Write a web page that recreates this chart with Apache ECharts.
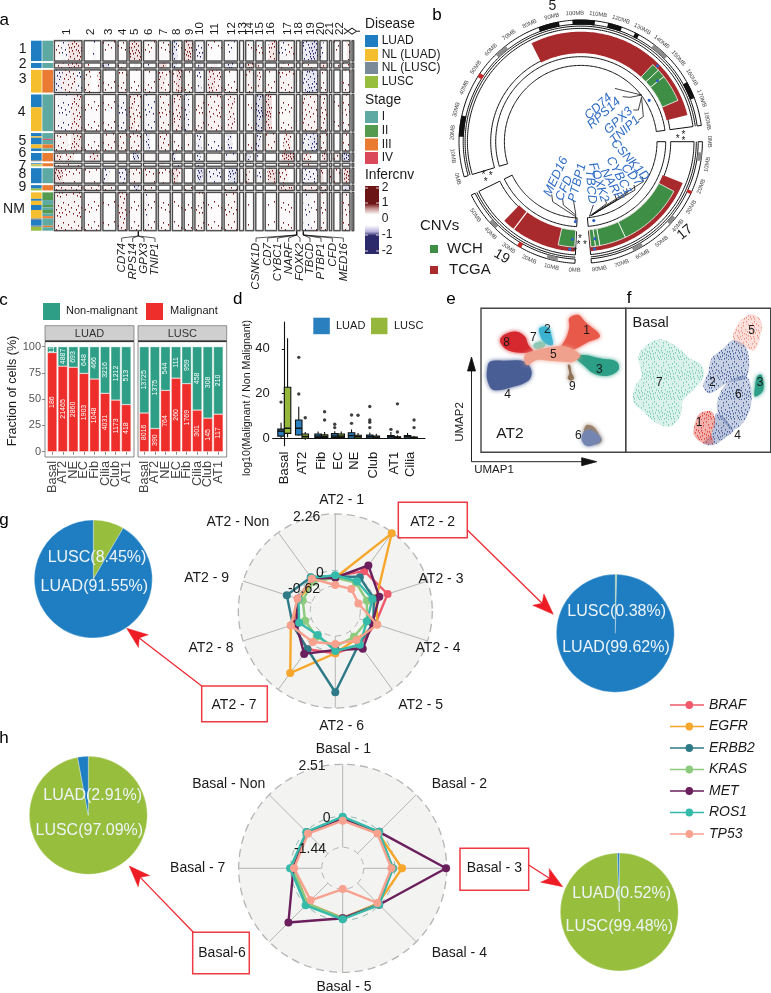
<!DOCTYPE html>
<html><head><meta charset="utf-8">
<style>html,body{margin:0;padding:0;background:#fff}#c{width:771px;height:993px}</style>
<script src="https://cdn.jsdelivr.net/npm/echarts@6/dist/echarts.min.js"></script>
</head><body><div id="c"></div>
<script>
// ---------- panel a data ----------
const chrNames=['1','2','3','4','5','6','7','8','9','10','11','12','13','14','15','16','17','18','19','20','21','22','X','Y'];
const chrSizes=[83,50,39,27,37,38,36,29,26,28,47,40,12,24,22,34,47,11,47,22,7,19,23,5];
const rowNames=['1','2','3','4','5','6','7','8','9','NM'];
const rowSizes=[61,15,68,110,54,25,9,45,16,115];
const diseaseNames=['LUAD','NL (LUAD)','NL (LUSC)','LUSC'];
const stageNames=['I','II','III','IV'];
// [row, fraction from, fraction to, category]
const annoDisease=[[0,0,1,0],[1,0,1,0],[2,0,1,1],[3,0,.35,0],[3,.35,1,1],[4,0,.18,0],[4,.18,.26,1],[4,.26,.63,0],[4,.63,.85,1],[4,.85,1,0],[5,0,.85,0],[5,.85,1,2],[6,0,.35,0],[6,.35,.7,1],[6,.7,1,3],[7,0,1,0],[8,0,.65,0],[8,.65,1,3],[9,0,.17,1],[9,.17,.22,0],[9,.22,.33,1],[9,.33,.46,0],[9,.46,.68,1],[9,.68,.72,2],[9,.72,.87,0],[9,.87,.9,2],[9,.9,1,3]];
const annoStage=[[0,0,1,0],[1,0,1,0],[2,0,1,2],[3,0,1,0],[4,0,.32,0],[4,.32,.38,3],[4,.38,.63,0],[4,.63,.85,2],[4,.85,1,0],[5,0,1,2],[6,0,1,2],[7,0,1,0],[8,0,1,2],[9,0,.2,1],[9,.2,.33,0],[9,.33,.39,1],[9,.39,.46,0],[9,.46,.55,1],[9,.55,.62,0],[9,.62,.68,2],[9,.68,.87,0],[9,.87,.91,2],[9,.91,1,0]];
// [row, chromosome index, fraction from, fraction to, inferCNV level]
const cnvSegments=[
[0,0,.5,1,1.4],[0,0,.25,.5,-.5],[0,0,0,.25,.4],[0,1,.5,.7,-.5],[0,2,0,1,.25],[0,3,0,1,.2],[0,4,0,1,1.5],[0,5,0,1,.4],[0,6,0,1,.3],[0,7,0,.5,-1.3],[0,7,.5,1,.3],[0,8,0,1,1.6],[0,9,.1,.9,-.7],[0,10,0,1,.15],[0,11,.2,.8,-.4],[0,13,0,1,.15],[0,14,0,1,.4],[0,15,.3,1,1.2],[0,16,0,.5,-.5],[0,16,.5,1,.5],[0,18,0,.5,-1.1],[0,18,.5,1,-1.8],[0,19,0,.5,-.8],[0,21,0,1,.3],[0,22,.6,1,1],
[1,0,.5,1,1.3],[1,0,0,.5,.8],[1,1,0,.3,.9],[1,2,0,.5,-1.8],[1,3,0,1,.4],[1,4,.4,.7,-.8],[1,5,.2,.6,-.6],[1,6,0,.7,1.9],[1,7,0,.4,-1.4],[1,9,.3,.7,-1.6],[1,10,.3,.7,.8],[1,11,0,.7,-1.3],[1,12,0,1,-1.5],[1,13,0,1,1.5],[1,14,0,.6,.8],[1,16,0,1,.4],[1,18,0,1,.5],[1,19,0,1,1.2],[1,21,0,1,.6],[1,22,0,1,.6],
[2,0,0,.3,-1],[2,0,.3,.8,.9],[2,0,.8,1,-.6],[2,1,0,.4,.7],[2,1,.8,1,.9],[2,2,0,1,.2],[2,3,0,1,.5],[2,4,0,1,.25],[2,5,0,1,.3],[2,6,0,.5,1],[2,6,.5,1,.5],[2,7,0,.4,.7],[2,7,.4,1,1.6],[2,8,0,1,.4],[2,9,.2,.7,-.8],[2,10,.1,.5,1.3],[2,10,.5,1,.9],[2,11,0,1,.3],[2,13,0,1,.6],[2,14,.2,.7,1],[2,15,0,1,.4],[2,16,0,1,.6],[2,18,0,.3,-1],[2,18,.3,1,-1.4],[2,19,0,1,.4],[2,22,0,1,.3],
[3,0,.1,.6,-.5],[3,0,.6,1,1],[3,1,0,1,.25],[3,2,0,1,.2],[3,3,0,1,-.5],[3,4,0,.5,1.1],[3,4,.5,1,.6],[3,5,0,1,-.5],[3,6,0,1,.6],[3,7,0,1,.9],[3,8,0,.6,-.8],[3,9,0,1,.5],[3,10,0,1,.7],[3,11,.2,.8,.9],[3,13,0,1,.15],[3,14,0,1,-1.6],[3,15,0,.6,1.7],[3,16,0,1,.4],[3,18,0,1,.7],[3,19,0,1,.7],[3,21,0,1,.2],[3,22,0,1,.5],
[4,0,0,.5,.6],[4,0,.6,1,1.2],[4,1,0,1,.3],[4,2,0,1,.5],[4,3,0,1,.6],[4,4,0,1,.7],[4,5,.2,.5,-1.3],[4,6,0,1,.7],[4,7,0,1,.3],[4,8,.3,.8,.6],[4,9,.2,.7,-1],[4,10,0,1,-.4],[4,11,.2,.6,-1.2],[4,13,0,1,.4],[4,14,0,.7,-1.2],[4,15,0,1,.6],[4,16,.3,.8,1.1],[4,18,0,.5,-.9],[4,18,.5,1,-1.4],[4,19,0,1,.6],[4,22,0,1,.5],
[5,0,0,.3,1.2],[5,0,.4,.7,1.1],[5,1,.3,.9,1.3],[5,2,0,1,.2],[5,3,0,1,.3],[5,4,.3,.8,-1.7],[5,5,0,1,.4],[5,6,0,1,.3],[5,7,0,.4,-1],[5,8,0,1,.3],[5,9,.2,.6,-1.1],[5,10,0,1,.4],[5,11,0,1,-.5],[5,13,.1,.6,-1.4],[5,14,0,.4,-.8],[5,16,.2,1,1.9],[5,18,0,.6,1.2],[5,19,.3,.9,1.6],[5,21,0,1,.8],[5,22,0,1,-1.8],
[6,0,0,1,.5],[6,6,0,.5,1],[6,7,0,1,-.8],[6,9,0,1,-.8],[6,16,0,1,.5],[6,18,0,1,.6],
[7,0,0,.3,1.7],[7,0,.3,1,.5],[7,1,0,1,.3],[7,2,0,.5,-.7],[7,3,0,1,-.8],[7,4,0,1,.5],[7,5,0,1,.5],[7,6,0,1,.4],[7,7,0,.6,1.4],[7,7,.6,1,.5],[7,8,0,1,.15],[7,9,.2,.8,-1.7],[7,10,0,1,-.7],[7,11,.3,1,-1.6],[7,13,0,.5,1],[7,14,.2,.8,-.7],[7,15,.2,.9,1.6],[7,16,0,.6,.8],[7,18,0,1,-.8],[7,19,.1,.5,1.5],[7,20,0,1,1],[7,21,0,1,.5],[7,22,.2,1,1.8],
[8,0,0,1,.7],[8,1,0,1,.5],[8,2,0,1,.2],[8,4,.4,.8,-1.5],[8,5,0,1,.3],[8,8,0,1,.2],[8,11,0,1,.3],[8,16,0,1,1.1],[8,18,0,1,.9],[8,19,0,1,.9],[8,22,.2,1,-1.5],
[9,0,0,1,.6],[9,1,0,1,.3],[9,2,0,1,.1],[9,3,0,1,.8],[9,4,0,1,.3],[9,5,0,1,.2],[9,5,.2,.4,-.5],[9,6,0,1,.3],[9,7,0,1,.2],[9,8,0,1,.2],[9,9,0,1,.5],[9,10,0,1,.2],[9,11,0,1,.5],[9,13,0,1,.1],[9,15,0,1,.1],[9,16,0,1,.3],[9,18,.1,.6,-.6],[9,18,.6,1,.3],[9,19,0,1,.4],[9,22,0,1,.6]];
const geneLabelsA1=['CD74','RPS14','GPX3','TNIP1'];
const geneLabelsA2=['CSNK1D','CD7','CYBC1','NARF','FOXK2','TBCD','PTBP1','CFD','MED16'];
// ---------- panel b data ----------
const circosChroms=[{name:'5',size:181.5},{name:'17',size:83.3},{name:'19',size:58.6}];
const cnvTCGA=[[0,77,175.4],[1,21.6,83.3],[2,.5,39.5]];
const cnvTCGASplit=[[2,33.2]];
const cnvWCH=[[0,143.8,148],[0,148,152.4],[0,152.4,166.8],[1,27.5,63.7],[1,63.7,78],[1,78,80.4],[1,80.4,82.8],[2,.5,9.2]];
const ideogramBlack=[[0,83,92.6],[0,98.7,109],[0,115,121.5],[0,128,130],[0,160.8,168.7],[0,18.4,28]];
const ideogramGray=[[0,60,66],[0,138,146],[1,5,9],[1,38,42],[1,58,63],[2,8,13],[2,40,44]];
const ideogramCentro=[[0,47,49],[1,23.5,25],[2,25.5,27.5]];
const genePointsB=[[0,146,2],[0,152,1],[0,159,0],[1,80,1],[1,81,2],[1,79,0],[2,2,1],[2,3,2],[2,1,0]];
// ---------- panel c data ----------
const cCats=['Basal','AT2','NE','EC','Fib','Cilia','Club','AT1'];
const cLuadMal=[186,21465,2860,1903,1048,4031,1173,418];
const cLuadNon=[11,4887,693,648,466,3216,1212,513];
const cLuscMal=[8016,390,764,260,1769,301,145,117];
const cLuscNon=[13725,1375,544,111,959,458,308,210];
// ---------- panel d data ----------
const dCats=['Basal','AT2','Fib','EC','NE','Club','AT1','Cilia'];
const dPos=[0,.98,2.05,2.97,3.9,4.91,6.08,7];
// min, q1, median, q3, max
const dBoxLUAD=[[0,1,3.2,4.1,7],[1.1,1.5,4.5,8.2,14.1],[.1,.3,1,1.9,3],[.1,.3,1,2.1,3.2],[0,0,1.2,2.5,4],[0,.1,.8,1.5,2.6],[-.2,0,.7,1.2,2.8],[0,.1,.8,1.2,2.4]];
const dBoxLUSC=[[.5,2.2,4.5,22.8,44.7],[-.6,0,.8,1.9,2.8],[.1,.3,.9,1.6,2.8],[.1,.4,1,1.9,3],[-.1,0,.7,1.4,2.4],[-.3,-.1,.5,1,2],[-.3,-.1,.4,.7,1.4],[-.1,0,.3,.6,1]];
const dOutLUAD=[[0,16.2],[1,36.2],[1,19.8],[3,6.3],[3,4.8],[4,10.4],[4,6.7],[5,14.2],[5,8.2],[5,7.2],[5,4.8],[6,4]];
const dOutLUSC=[[1,9.2],[2,11.9],[2,8.2],[4,10.3],[6,15.4],[6,2.8],[7,8.2],[7,4.8]];
// ---------- panel e / f outlines, UMAP units ----------
const umapE=[
['4','#4A5E96',1,[[60,215],[100,212],[165,215],[185,245],[175,272],[130,290],[70,300],[52,270],[52,235]]],
['8','#D6282F',1,[[90,150],[105,133],[140,125],[165,140],[175,165],[190,185],[150,188],[120,183],[100,170]]],
['2','#3BB3D0',1,[[208,115],[235,112],[245,140],[248,165],[225,160],[212,140]]],
['7','#8CC9B5',1,[[190,165],[205,155],[225,160],[222,172],[200,178]]],
['1','#E8594A',1,[[298,85],[325,75],[345,95],[390,138],[350,158],[320,175],[285,190],[270,180],[290,140],[298,110]]],
['3','#2E9F87',1,[[315,200],[345,195],[390,205],[440,215],[445,240],[410,258],[370,250],[340,225]]],
['9','#8F7258',1,[[293,225],[300,225],[305,250],[312,265],[303,272],[293,265],[298,250]]],
['5','#F0A18E',1,[[165,195],[210,178],[250,170],[290,170],[330,195],[310,215],[280,215],[240,212],[200,210],[170,225]]],
['6a','#9C836B',1,[[342,420],[350,405],[372,412],[390,440],[395,452],[380,462],[345,440]]],
['6','#7385B0',1,[[340,428],[358,420],[378,430],[393,447],[380,462],[350,468],[335,450]]]];
const umapF=[
['7','#7CCDB5',.55,[[505,200],[530,165],[570,148],[620,170],[660,205],[695,225],[700,262],[670,300],[640,330],[630,380],[600,410],[560,400],[520,365],[490,335],[495,290],[515,255]]],
['5','#EE9683',.6,[[805,100],[845,73],[875,95],[870,140],[855,180],[830,175],[790,150]]],
['2','#47609E',.6,[[725,205],[760,175],[790,150],[830,175],[830,260],[770,280],[720,310],[700,290],[715,245]]],
['6','#47609E',.6,[[770,280],[830,260],[845,330],[825,390],[790,420],[765,400],[740,350]]],
['4','#47609E',.75,[[740,370],[790,420],[770,440],[730,465],[700,460],[725,430]]],
['1','#E0483E',.85,[[690,370],[725,365],[735,400],[725,430],[730,460],[700,460],[672,435],[675,400]]],
['3','#2E9F87',1,[[862,258],[875,255],[880,300],[855,320],[855,290]]]];
// ---------- radar data ----------
const genes=['BRAF','EGFR','ERBB2','KRAS','MET','ROS1','TP53'];
const geneColors=['#F0596B','#F8A72D','#2E7A87','#8CCB7E','#6B1F5C','#36BBAA','#F9A18F'];
const at2Names=['AT2 - 1','AT2 - 2','AT2 - 3','AT2 - 4','AT2 - 5','AT2 - 6','AT2 - 7','AT2 - 8','AT2 - 9','AT2 - Non'];
const at2Values=[
[-.22,.35,.58,.06,.06,.07,.27,.17,-.05,-.02],
[-.29,2.22,.11,.14,-.22,.07,1.45,.25,-.09,-.13],
[-.22,.05,0,-.02,0,1.63,.27,.17,.42,.05],
[-.29,-.22,-.29,-.29,-.35,-.19,-.35,-.35,-.25,-.15],
[-.29,.63,.23,-.06,.25,-.06,.5,.02,-.05,-.01],
[-.19,-.15,-.06,-.29,.05,-.02,-.43,-.1,-.07,.02],
[-.58,-.53,-.65,.14,-.18,-.30,-.09,.25,-.03,-.02]];
const basalNames=['Basal - 1','Basal - 2','Basal - 3','Basal - 4','Basal - 5','Basal-6','Basal - 7','Basal - Non'];
const basalValues=[
[-.1,-.07,-.07,-.07,-.07,-.07,-.07,-.07],
[-.07,-.07,.38,-.07,-.07,-.07,-.07,-.07],
[-.03,-.03,-.05,-.03,-.05,-.03,-.05,-.03],
[-.07,-.05,-.07,-.05,-.05,-.07,-.07,-.05],
[-.07,.01,2.48,.01,-.07,1.21,-.1,-.02],
[.01,.01,-.07,.01,-.02,.05,.06,0],
[-.18,-.11,-.13,-.11,-1.46,-.29,-.13,-.11]];
const pieG1=[['LUSC',8.45],['LUAD',91.55]];
const pieG2=[['LUSC',.38],['LUAD',99.62]];
const pieH1=[['LUSC',97.09],['LUAD',2.91]];
const pieH2=[['LUSC',99.48],['LUAD',.52]];

// ---------- styling ----------
const FONT='"Liberation Sans",Arial,sans-serif';
const diseaseColors=['#1F7EC2','#F5BE2E','#7A8A99','#97BE3D'];
const stageColors=['#5FA9A3','#559B4F','#E97B33','#D9495A'];
const BLUE='#1F7EC2',OLIVE='#97BE3D',RED='#EE3A43';
const gfx=[];
const T=(text,x,y,size,o={})=>gfx.push({type:'text',x,y,rotation:(o.rot||0)*Math.PI/180,z:o.z||50,silent:true,style:{text,font:`${o.style||'normal'} ${size}px ${FONT}`,fill:o.fill||'#1a1a1a',align:o.align||'center',verticalAlign:'middle'}});
const R=(x,y,w,h,o={})=>gfx.push({type:'rect',z:o.z==null?1:o.z,silent:true,shape:{x,y,width:w,height:h},style:{fill:o.fill||'none',stroke:o.stroke||'none',lineWidth:o.lw||1}});
const P=(pts,o={})=>gfx.push({type:o.fill?'polygon':'polyline',z:o.z==null?40:o.z,silent:true,shape:{points:pts},style:{fill:o.fill||'none',stroke:o.stroke||'#111',lineWidth:o.lw||.8,lineDash:o.dash||null}});
const C=(cx,cy,r,o={})=>gfx.push({type:'circle',z:o.z==null?1:o.z,silent:true,shape:{cx,cy,r},style:{fill:o.fill||'none',stroke:o.stroke||'none',lineWidth:o.lw||1,lineDash:o.dash||null}});

// letters
[['a',4.3,20],['b',437,15],['c',3.5,300],['d',237.7,299],['e',451,299],['f',629,298],['g',4,520],['h',4,738]].forEach(l=>T(l[0],l[1],l[2],17,{align:'center',fill:'#000'}));

// speckle tile (fixed hand-placed offsets) so the heat map & sparse UMAP read as dots
const speck=[[3,2],[14,1],[8,4],[18,5],[1,7],[11,7],[5,9],[16,9],[9,11],[2,12],[19,12],[13,13],[6,14],[17,15],[0,16],[10,16],[4,18],[14,18],[8,19],[19,19],[12,3],[6,1],[16,3],[3,5],[9,7],[14,6],[1,10],[7,11],[12,10],[18,10],[4,13],[10,13],[15,12],[2,15],[8,15],[13,16],[18,17],[6,17],[11,18],[1,19]];
const patternCache={};
function speckFill(col,n,bg){
 const key=col+n+bg; if(patternCache[key])return patternCache[key];
 const c=document.createElement('canvas');c.width=c.height=20;const g=c.getContext('2d');
 g.fillStyle=col;g.globalAlpha=bg;g.fillRect(0,0,20,20);g.globalAlpha=1;
 speck.slice(0,n).forEach(p=>g.fillRect(p[0],p[1],1,1.6));
 return patternCache[key]={image:c,repeat:'repeat'};
}

// ---------- panel a layout from sizes ----------
const chrGap=6.3,rowGap=5.78;
let acc=0;const chrStart=chrSizes.map(w=>{const s=acc;acc+=w+chrGap;return s;});
const aW=acc-chrGap; acc=0;
const rowStart=rowSizes.map(h=>{const s=acc;acc+=h+rowGap;return s;});
const aH=acc-rowGap;
const frameData=[];rowSizes.forEach((_,r)=>chrSizes.forEach((_,c)=>frameData.push([r,c])));
function rectOf(api,x0,x1,y0,y1){const a=api.coord([x0,y0]),b=api.coord([x1,y1]);return{x:a[0],y:a[1],width:b[0]-a[0],height:b[1]-a[1]};}
function segColor(v){const m=Math.abs(v)/2;return speckFill(v>0?'#7d1518':'#26246f',Math.round(m*40)+3,m*.16);}

const series=[];
// annotation columns
const annoSeries=(data,colors,x0,x1)=>({type:'custom',xAxisIndex:0,yAxisIndex:0,silent:true,data,
 renderItem:(p,api)=>{const r=api.value(0),s=rowStart[r],h=rowSizes[r];return{type:'rect',shape:rectOf(api,x0,x1,s+h*api.value(1),s+h*api.value(2)),style:{fill:colors[api.value(3)]}};}});
series.push(annoSeries(annoDisease,diseaseColors,-70,-38));
series.push(annoSeries(annoStage,stageColors,-36,-4));
series.push({type:'custom',xAxisIndex:0,yAxisIndex:0,silent:true,z:2,data:frameData,renderItem:(p,api)=>{
 const r=api.value(0),c=api.value(1);const sh=rectOf(api,chrStart[c],chrStart[c]+chrSizes[c],rowStart[r],rowStart[r]+rowSizes[r]);
 return{type:'rect',shape:sh,style:{fill:c==23?'#888':'#fff',stroke:'#a5a5a5',lineWidth:1.7}};}});
series.push({type:'custom',xAxisIndex:0,yAxisIndex:0,silent:true,z:3,data:cnvSegments,renderItem:(p,api)=>{
 const r=api.value(0),c=api.value(1),s=chrStart[c],w=chrSizes[c];
 return{type:'rect',shape:rectOf(api,s+w*api.value(2),s+w*api.value(3),rowStart[r],rowStart[r]+rowSizes[r]),style:{fill:segColor(api.value(4))}};}});
series.push({type:'custom',xAxisIndex:0,yAxisIndex:0,silent:true,z:4,data:frameData,renderItem:(p,api)=>{
 const r=api.value(0),c=api.value(1);const sh=rectOf(api,chrStart[c],chrStart[c]+chrSizes[c],rowStart[r],rowStart[r]+rowSizes[r]);
 return{type:'rect',shape:sh,style:{fill:'none',stroke:'#222',lineWidth:.75}};}});
// a labels
const chrLabelZ=[200,273,325,368,403,447,490,530,568,598,643,695,728,750,778,813,863,897,933,963,990,1018,1045,1070];
chrNames.forEach((n,i)=>T(n,chrLabelZ[i]/3,35,11.5,{rot:90,align:'left'}));
const rowLabelZ=[[68,148],[68,192],[68,238],[65,335],[67,423],[67,460],[67,497],[67,523],[67,560],[42,628]];
rowNames.forEach((n,i)=>T(n,rowLabelZ[i][0]/3,rowLabelZ[i][1]/3,14));
const gA1x=[365,398,432,465],gA2x=[768,803,833,866,900,930,963,997,1030];
geneLabelsA1.forEach((n,i)=>{T(n,gA1x[i]/3,243,11.5,{rot:90,align:'right',style:'italic'});P([[gA1x[i]/3,242],[gA1x[i]/3,238],[415/3,236],[415/3,231.5]],{lw:.7});});
geneLabelsA2.forEach((n,i)=>{const hub=i<5?890:910;T(n,gA2x[i]/3,243,11.5,{rot:90,align:'right',style:'italic'});P([[gA2x[i]/3,242],[gA2x[i]/3,238],[hub/3,235],[hub/3,231.5]],{lw:.7});});
T('Disease',365,24,13.8,{align:'left'});
[41,55,68,82].forEach((y,i)=>{R(365,y-6,13,12,{fill:diseaseColors[i]});T(diseaseNames[i],381.7,y,12,{align:'left'});});
T('Stage',365,100,13.8,{align:'left'});
[117,131,144.5,158].forEach((y,i)=>{R(365,y-6,13,12,{fill:stageColors[i]});T(stageNames[i],381.7,y,12,{align:'left'});});
T('Infercnv',365,175,13.8,{align:'left'});
gfx.push({type:'rect',z:1,silent:true,shape:{x:365,y:186,width:14,height:68},style:{fill:{type:'linear',x:0,y:0,x2:0,y2:1,colorStops:[{offset:0,color:'#6b1517'},{offset:.26,color:'#6b1517'},{offset:.33,color:'#c58f8f'},{offset:.42,color:'#fff'},{offset:.58,color:'#fff'},{offset:.67,color:'#b9b3dc'},{offset:.73,color:'#2c2a6b'},{offset:1,color:'#2c2a6b'}]}}});
[188,203,235,251].forEach(y=>{P([[365,y],[368,y]],{stroke:'#fff',lw:.8});P([[376,y],[379,y]],{stroke:'#fff',lw:.8});});
[['2',188],['1',203],['0',219],['-1',235],['-2',251]].forEach(l=>T(l[0],381.7,l[1],12,{align:'left'}));

// ---------- panel b: circos through a polar coordinate system ----------
const chrAngle=[253.2,90,182.7],chrDeg=[1.042,1.02,1.046];
const ang=(c,mb)=>chrAngle[c]+mb*chrDeg[c];
function bandPts(api,r0,r1,a0,a1){const pts=[];const n=Math.max(2,Math.ceil(Math.abs(a1-a0)));
 for(let i=0;i<=n;i++)pts.push(api.coord([r1,a0+(a1-a0)*i/n]));
 for(let i=n;i>=0;i--)pts.push(api.coord([r0,a0+(a1-a0)*i/n]));return pts;}
const polarRender=(fn)=>({type:'custom',coordinateSystem:'polar',polarIndex:0,silent:true,renderItem:fn});
const RINGS=[[76.3,85],[90,113.3],[117.5,121.7]];
series.push(Object.assign(polarRender((p,api)=>{const c=api.value(0),rg=RINGS[api.value(1)];
 return{type:'polygon',shape:{points:bandPts(api,rg[0],rg[1],ang(c,0),ang(c,circosChroms[c].size))},style:{fill:'#fff',stroke:'#111',lineWidth:1}};}),
 {z:2,data:[[0,0],[0,1],[0,2],[1,0],[1,1],[1,2],[2,0],[2,1],[2,2]]}));
series.push(Object.assign(polarRender((p,api)=>{const c=api.value(0);const a0=ang(c,0),a1=ang(c,circosChroms[c].size),n=Math.ceil(a1-a0),pts=[];
 for(let i=0;i<=n;i++)pts.push(api.coord([115.6,a0+(a1-a0)*i/n]));
 return{type:'polyline',shape:{points:pts},style:{fill:'none',stroke:'#111',lineWidth:1}};}),{z:3,data:[[0],[1],[2]]}));
const bandSeries=(data,fill,r0,r1,z,stroke)=>Object.assign(polarRender((p,api)=>{const c=api.value(0);
 return{type:'polygon',shape:{points:bandPts(api,r0,r1,ang(c,api.value(1)),ang(c,api.value(2)))},style:{fill,stroke:stroke||'none',lineWidth:.8}};}),{z,data});
series.push(bandSeries(ideogramBlack,'#111',117,122,4));
series.push(bandSeries(ideogramGray,'#8c8c8c',117.5,121.7,4));
series.push(bandSeries(ideogramCentro,'#C62828',117,122,4));
series.push(bandSeries(cnvTCGA,'#A82A2D',88.5,110,4));
series.push(bandSeries(cnvWCH,'#3E8E45',88.5,105.6,5,'#fff'));
series.push(Object.assign(polarRender((p,api)=>{const c=api.value(0),a=ang(c,api.value(1));const q=bandPts(api,88.5,110,a,a);
 return{type:'polyline',shape:{points:[q[0],q[q.length-1]]},style:{stroke:'#fff',lineWidth:1.2,fill:'none'}};}),{z:6,data:cnvTCGASplit}));
const genePointR=[80,98,108];
series.push(Object.assign(polarRender((p,api)=>{const c=api.value(0);const pt=api.coord([genePointR[api.value(2)],ang(c,api.value(1))]);
 return{type:'circle',shape:{cx:pt[0],cy:pt[1],r:1.6},style:{fill:'#2D63C4'}};}),{z:7,data:genePointsB}));
// Mb tick labels
const mbTicks=[];circosChroms.forEach((ch,c)=>{for(let m=0;m<=ch.size;m+=10)mbTicks.push([c,m]);});
series.push(Object.assign(polarRender((p,api)=>{const c=api.value(0),m=api.value(1),a=ang(c,m),pt=api.coord([128.5,a]);
 let norm=((a%360)+360)%360,rot=-norm*Math.PI/180;if(norm>90&&norm<270)rot+=Math.PI;
 return{type:'text',x:pt[0],y:pt[1],rotation:rot,style:{text:m+'MB',fill:'#444',font:`5.8px ${FONT}`,align:'center',verticalAlign:'middle'}};}),{z:8,data:mbTicks}));
const zb=(x,y)=>[430+x/3,y/3];
const TB=(t,x,y,s,o)=>{const q=zb(x,y);T(t,q[0],q[1],s,o);};
TB('5',367,18,14);TB('17',765,697,14,{rot:40});TB('19',215,770,14,{rot:-30});
[['*',160,527],['*',182,530],['*',167,548],['*',743,418],['*',760,405],['*',760,424],['*',450,717],['*',445,737],['*',465,737],['*',435,757]].forEach(s=>TB(s[0],s[1],s[2],10));
const GB='#2F6CC4';
[['CD74',505,320,42],['RPS14',522,340,42],['GPX3',565,362,42],['TNIP1',585,390,42],['CSNK1D',600,480,-48],['CD7',605,525,-48],['CYBC1',567,527,-62],['NARF',545,553,-62],['FOXK2',506,547,-72],['TBCD',482,560,-85],['PTBP1',442,548,75],['CFD',403,565,65],['MED16',378,530,65]].forEach(g=>TB(g[0],g[1],g[2],12.5,{fill:GB,rot:g[3],style:'italic'}));
const zbl=a=>P(a.map(p=>zb(p[0],p[1])),{lw:.8});
[[[555,265],[565,268],[635,285]],[[578,290],[600,292],[635,285]],[[610,330],[625,330],[635,290]],[[625,360],[640,350],[635,295]],
 [[637,530],[640,545],[487,642]],[[612,555],[615,570],[487,644]],[[590,565],[592,580],[485,646]],[[555,585],[560,600],[483,647]],[[525,600],[530,610],[480,648]],[[490,615],[478,650]],
 [[430,600],[437,640],[437,660]],[[398,597],[400,615],[437,645]],[[365,583],[368,605],[437,650]]].forEach(zbl);
T('CNVs',420,226,15,{align:'left'});
R(430,245,8,8,{fill:'#3E8E45'});T('WCH',447,248.5,15,{align:'left'});
R(430,266,8,8,{fill:'#A82A2D'});T('TCGA',449,269.5,15,{align:'left'});

// ---------- panel c ----------
const pct=(a,b)=>a.map((v,i)=>v/(v+b[i])*100);
function stackSeries(ax,mal,non){
 const lab=(arr)=>({show:true,rotate:90,position:'inside',color:'#fff',fontSize:7,fontFamily:FONT,formatter:p=>arr[p.dataIndex]});
 return[{type:'bar',xAxisIndex:ax,yAxisIndex:ax,stack:'s'+ax,barWidth:9.6,silent:true,data:pct(mal,non),itemStyle:{color:'#EE2E2A',borderColor:'#fff',borderWidth:.4},label:lab(mal)},
 {type:'bar',xAxisIndex:ax,yAxisIndex:ax,stack:'s'+ax,barWidth:9.6,silent:true,data:pct(non,mal),itemStyle:{color:'#2E9E87',borderColor:'#fff',borderWidth:.4},label:lab(non)}];}
series.push(...stackSeries(1,cLuadMal,cLuadNon),...stackSeries(2,cLuscMal,cLuscNon));
[[45,89,'LUAD'],[138,88.7,'LUSC']].forEach(f=>{
 R(f[0],325.7,f[1],15,{fill:'#cfcfcf',stroke:'#7a7a7a',lw:.8});
 P([[f[0],341.3],[f[0]+f[1],341.3]],{stroke:'#333',lw:1.4});
 R(f[0],341.7,f[1],115.3,{stroke:'#7a7a7a',lw:.9});
 T(f[2],f[0]+f[1]/2,334,11,{fill:'#333'});
});
R(43,303,17,17,{fill:'#2E9E87'});T('Non-malignant',66,311,11,{align:'left'});
R(146,303,17,17,{fill:'#EE2E2A'});T('Malignant',170,311,11,{align:'left'});
T('Fraction of cells (%)',12.5,391,12.5,{rot:90});

// ---------- panel d ----------
const boxSeries=(data,dodge,color)=>({type:'custom',xAxisIndex:3,yAxisIndex:3,silent:true,z:3,data:data.map((b,i)=>[i,...b]),
 renderItem:(p,api)=>{const x=dPos[api.value(0)]+dodge,w=.18;const c=(dx,v)=>api.coord([x+dx,v]);
  const mn=api.value(1),q1=api.value(2),md=api.value(3),q3=api.value(4),mx=api.value(5);
  const top=c(-w,q3),bot=c(w,q1);
  return{type:'group',children:[
   {type:'line',shape:{x1:c(0,0)[0],y1:c(0,mn)[1],x2:c(0,0)[0],y2:c(0,mx)[1]},style:{stroke:'#111',lineWidth:1.1}},
   {type:'rect',shape:{x:top[0],y:top[1],width:bot[0]-top[0],height:bot[1]-top[1]},style:{fill:color,stroke:'#111',lineWidth:1.1}},
   {type:'line',shape:{x1:top[0],y1:c(0,md)[1],x2:bot[0],y2:c(0,md)[1]},style:{stroke:'#111',lineWidth:1.5}}]};}});
series.push(boxSeries(dBoxLUAD,-.18,'#2A7FBE'),boxSeries(dBoxLUSC,.18,'#95B83C'));
const outSeries=(arr,dodge)=>({type:'scatter',xAxisIndex:3,yAxisIndex:3,silent:true,z:4,symbolSize:3.4,itemStyle:{color:'#111'},data:arr.map(o=>[dPos[o[0]]+dodge,o[1]])});
series.push(outSeries(dOutLUAD,-.18),outSeries(dOutLUSC,.18));
T('log10(Malignant / Non Malignant)',247,398,10.6,{rot:90});
R(313.3,317.7,16.5,16.5,{fill:'#2A7FBE'});T('LUAD',336,326,11,{align:'left'});
R(371,317.7,16.5,16.5,{fill:'#95B83C'});T('LUSC',394,326,11,{align:'left'});

// ---------- panels e, f ----------
const polySeries=(ax,list,sparse)=>({type:'custom',xAxisIndex:ax,yAxisIndex:ax,silent:true,z:3,data:list.map((_,i)=>[i]),
 renderItem:(p,api)=>{const it=list[api.value(0)];
  const sp=sparse&&it[2]<1,fill=sp?speckFill(it[1],40,it[2]*.5):it[1];
  return{type:'polygon',shape:{points:it[3].map(q=>api.coord(q)),smooth:.35},style:sp?{fill}:{fill,shadowBlur:4,shadowColor:it[1]}};}});
series.push(polySeries(4,umapE,false),polySeries(5,umapF,true));
R(481,308.3,144.7,144,{stroke:'#444',lw:1.4,z:30});
R(625.7,308.3,145,144,{stroke:'#444',lw:1.4,z:30});
const z5=(x,y)=>[470+x/3,290+y/3];
[['1',350,122],['2',232,120],['3',388,238],['4',113,315],['5',250,195],['6',325,438],['7',190,143],['8',110,158],['9',307,290],['5',845,123],['2',727,278],['3',870,278],['6',805,315],['7',568,278],['1',687,397],['4',803,437]].forEach(l=>{const q=z5(l[1],l[2]);T(l[0],q[0],q[1],12,{z:60});});
{let q=z5(120,432);T('AT2',q[0],q[1],15.5,{z:60});q=z5(542,100);T('Basal',q[0],q[1],14.5,{z:60});}
P([[471.5,461.7],[471.5,368]],{lw:1,stroke:'#222'});P([[471.5,461.7],[584,461.7]],{lw:1,stroke:'#222'});
P([[471.5,357],[467.5,371],[475.5,371]],{fill:'#111',stroke:'#111'});
P([[596.7,461.7],[581.7,457.7],[581.7,465.7]],{fill:'#111',stroke:'#111'});
T('UMAP1',494,470,11.5);T('UMAP2',460,422,11.5,{rot:90});

// ---------- radars ----------
// the library lays indicators out anticlockwise; the figure reads clockwise
const cw=a=>[a[0],...a.slice(1).reverse()];
function radarDecor(cx,cy,R0,rIn,rMid,n,names,labelPos,ticks){
 C(cx,cy,R0,{fill:'#F3F3F2',stroke:'#b5b5b5',lw:1.3,dash:[8,5]});
 for(let i=0;i<n;i++){const a=i/n*2*Math.PI;P([[cx+rIn*Math.sin(a),cy-rIn*Math.cos(a)],[cx+R0*Math.sin(a),cy-R0*Math.cos(a)]],{stroke:'#b5b5b5',lw:1,z:1});}
 C(cx,cy,rMid,{stroke:'#8fb5b0',lw:1,dash:[6,5]});C(cx,cy,rIn,{stroke:'#b5b5b5',lw:1,dash:[6,5]});
 names.forEach((nm,i)=>T(nm,labelPos[i][0],labelPos[i][1],14,{z:60}));
 ticks.forEach(t=>T(t[0],t[1],t[2],14,{z:60}));
}
radarDecor(335.3,611,97,25,40.5,10,at2Names,[[341.7,500],[432.7,522],[441,578.7],[438,648],[420.7,705],[341.7,726],[234,705],[211,647.7],[206.7,578],[238,522]],[['2.26',306.7,517],['0',320,573],['-0.62',304,589]]);
radarDecor(342.7,868.3,104,21,52,8,basalNames,[[343.3,749.3],[459.3,784.3],[494.3,868],[459.3,952.7],[344,987.3],[222,952.7],[197.7,868.3],[228.7,784.3]],[['2.51',312,766],['0',326.7,817.7],['-1.44',310,849]]);
const radarCfg=(cx,cy,r,names,min,max)=>({center:[cx,cy],radius:r,shape:'circle',startAngle:90,splitNumber:4,
 indicator:cw(names).map(n=>({name:n,min,max})),axisName:{show:false},axisLine:{show:false},axisTick:{show:false},axisLabel:{show:false},splitLine:{show:false},splitArea:{show:false}});
genes.forEach((g,i)=>{
 [[0,at2Values],[1,basalValues]].forEach(v=>series.push({type:'radar',radarIndex:v[0],name:g,silent:true,z:5+i*.01,symbol:'circle',symbolSize:8,
  lineStyle:{width:2.4,color:geneColors[i]},itemStyle:{color:geneColors[i]},data:[{name:g,value:cw(v[1][i])}]}));
});
// boxes & arrows
R(398.3,502.3,69,35.4,{stroke:RED,lw:1.5,z:45});R(201.7,686,65.6,35.7,{stroke:RED,lw:1.5,z:45});
R(460,848.3,68.7,42,{stroke:RED,lw:1.5,z:45});R(192.7,932.3,56.6,41.4,{stroke:RED,lw:1.5,z:45});
function arrow(x0,y0,x1,y1,len,hw){const a=Math.atan2(y1-y0,x1-x0),bx=x1-len*Math.cos(a),by=y1-len*Math.sin(a),nx=-Math.sin(a),ny=Math.cos(a),ix=x1-len*.75*Math.cos(a),iy=y1-len*.75*Math.sin(a);
 P([[x0,y0],[ix,iy]],{stroke:'#EE2A33',lw:1.3,z:45});
 P([[x1,y1],[bx+nx*hw,by+ny*hw],[ix,iy],[bx-nx*hw,by-ny*hw]],{fill:'#EE1C25',stroke:'#EE1C25',z:46,lw:.5});}
arrow(467.3,530,553.3,614.3,21,8);arrow(201.7,686,126.7,628.3,21,8);
arrow(528.7,865,562.7,886.7,21,8);arrow(193.3,932.3,129.3,866,21,8);
// pies
const pieSeries=(arr,cx,cy,cols)=>({type:'pie',silent:true,center:[cx,cy],radius:[0,59],startAngle:90,clockwise:true,z:5,label:{show:false},labelLine:{show:false},
 itemStyle:{borderColor:'rgba(255,255,255,.6)',borderWidth:.5},data:arr.map((d,i)=>({name:d[0],value:d[1],itemStyle:{color:cols[i]}}))});
series.push(pieSeries(pieG1,93.3,579,[OLIVE,BLUE]),pieSeries(pieG2,615.3,633.3,[OLIVE,BLUE]),pieSeries(pieH1,88.3,815.3,[OLIVE,BLUE]),pieSeries(pieH2,619.3,912,[OLIVE,BLUE]));
const pct2=(d)=>d[0]+'('+d[1].toFixed(2)+'%)';
const WT='#eef4f8';
T(pct2(pieG1[0]),97,558,16,{fill:WT,z:70});T(pct2(pieG1[1]),94.3,587,16,{fill:WT,z:70});
T(pct2(pieG2[0]),616.7,611.7,16,{fill:WT,z:70});T(pct2(pieG2[1]),616,647.7,16,{fill:WT,z:70});
T(pct2(pieH1[1]),92.7,796,16,{fill:WT,z:70});T(pct2(pieH1[0]),89.3,830.7,16,{fill:WT,z:70});
T(pct2(pieH2[1]),621.7,893.3,16,{fill:WT,z:70});T(pct2(pieH2[0]),619.3,926.7,16,{fill:WT,z:70});

// ---------- axes ----------
const hidden=(o)=>Object.assign({show:false},o);
const catAxis=(gi,cats,offset)=>({type:'category',gridIndex:gi,data:cats,offset:5.3,axisLine:{show:false},axisTick:{show:true,length:3,lineStyle:{color:'#666',width:.8},alignWithLabel:true},
 axisLabel:{interval:0,rotate:90,fontSize:12.8,color:'#444',margin:4,fontFamily:FONT}});
const option={
 animation:false,backgroundColor:'#fff',textStyle:{fontFamily:FONT},
 graphic:{elements:gfx},
 grid:[
  {left:31,top:40.7,width:322.7,height:190,show:false},
  {left:46.9,top:346.7,width:84.6,height:105},
  {left:139,top:346.7,width:84.6,height:105},
  {left:272.7,top:322,width:152.3,height:123.7},
  {left:481,top:308.3,width:144.7,height:144},
  {left:625.7,top:308.3,width:145.3,height:144}],
 xAxis:[
  hidden({type:'value',gridIndex:0,min:-70,max:aW}),
  catAxis(1,cCats),catAxis(2,cCats),
  {type:'value',gridIndex:3,min:-.642,max:7.786,splitLine:{show:false},axisLine:{lineStyle:{color:'#111',width:1.1}},axisTick:{show:false},
   axisLabel:{customValues:dPos,rotate:90,fontSize:13,color:'#1a1a1a',margin:6,fontFamily:FONT,formatter:v=>{let b=0;dPos.forEach((p,i)=>{if(Math.abs(p-v)<1e-6)b=i;});return dCats[b];}}},
  hidden({type:'value',gridIndex:4,min:33,max:467}),
  hidden({type:'value',gridIndex:5,min:467,max:903})],
 yAxis:[
  hidden({type:'value',gridIndex:0,min:0,max:aH,inverse:true}),
  {type:'value',gridIndex:1,min:0,max:100,interval:25,offset:1.9,splitLine:{show:false},axisLine:{show:false},axisTick:{show:true,length:3,lineStyle:{color:'#666',width:.8}},axisLabel:{fontSize:11,color:'#555',margin:4,fontFamily:FONT}},
  hidden({type:'value',gridIndex:2,min:0,max:100}),
  {type:'value',gridIndex:3,min:-3.3,max:52,splitLine:{show:false},axisLine:{show:true,lineStyle:{color:'#111',width:1.1}},axisTick:{show:true,length:2.5,customValues:[0,20,40],lineStyle:{color:'#111'}},axisLabel:{customValues:[0,20,40],fontSize:13,color:'#1a1a1a',margin:3,fontFamily:FONT}},
  hidden({type:'value',gridIndex:4,min:55,max:487,inverse:true}),
  hidden({type:'value',gridIndex:5,min:55,max:487,inverse:true})],
 polar:{center:[580.7,141.7],radius:[0,130]},
 radiusAxis:{polarIndex:0,min:0,max:130,show:false},
 angleAxis:{polarIndex:0,min:0,max:360,startAngle:90,clockwise:true,show:false},
 radar:[radarCfg(335.3,611,97,at2Names,-1.62,2.26),radarCfg(342.7,868.3,104,basalNames,-2.45,2.51)],
 legend:{show:true,orient:'vertical',left:665,top:693,itemWidth:34,itemHeight:8,itemGap:7.5,selectedMode:false,data:genes,
  icon:'path://M0 3.2H34V4.8H0Z M19.3-0 A3.8 4 0 1 1 19.29 0Z',textStyle:{fontSize:14,fontStyle:'italic',color:'#1a1a1a',fontFamily:FONT,padding:[0,0,0,0]}},
 series
};
const chart=echarts.init(document.getElementById('c'),null,{renderer:'canvas'});
chart.setOption(option);
</script></body></html>
